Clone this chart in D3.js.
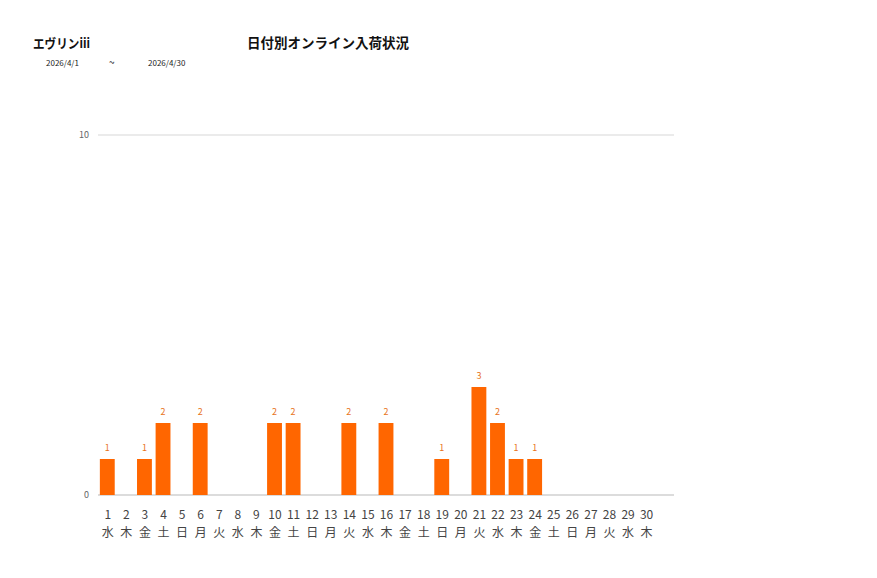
<!DOCTYPE html>
<html lang="ja">
<head>
<meta charset="UTF-8">
<title>日付別オンライン入荷状況</title>
<script src="https://d3js.org/d3.v7.min.js"></script>
<style>
  body { margin: 0; background: #fff; font-family: "Noto Sans CJK JP", "Noto Sans", sans-serif; }
  svg { display: block; }
</style>
</head>
<body>
<div id="chart"></div>
<script>
// data
const days     = ["1","2","3","4","5","6","7","8","9","10","11","12","13","14","15","16","17","18","19","20","21","22","23","24","25","26","27","28","29","30"];
const weekdays = ["水","木","金","土","日","月","火","水","木","金","土","日","月","火","水","木","金","土","日","月","火","水","木","金","土","日","月","火","水","木"];
const counts   = [1,0,1,2,0,2,0,0,0,2,2,0,0,2,0,2,0,0,1,0,3,2,1,1,0,0,0,0,0,0];
const yTicks   = [0, 10];

const W = 877, H = 578;
const plotL = 98, plotR = 674, plotT = 135, plotB = 495;
const step = (plotR - plotL) / 31;   // axis leaves room for one more slot

const svg = d3.select("#chart").append("svg").attr("width", W).attr("height", H);

// titles
svg.append("text").attr("x", 33).attr("y", 48)
  .attr("font-size", 13).attr("font-weight", "bold").attr("fill", "#111")
  .attr("textLength", 57).attr("lengthAdjust", "spacingAndGlyphs").text("エヴリンiii");
svg.append("text").attr("x", 247).attr("y", 48)
  .attr("font-size", 13.5).attr("font-weight", "bold").attr("fill", "#111").text("日付別オンライン入荷状況");
svg.append("text").attr("x", 46).attr("y", 66).attr("font-size", 8).attr("fill", "#222").text("2026/4/1");
svg.append("text").attr("x", 109).attr("y", 66).attr("font-size", 10).attr("fill", "#222").text("~");
svg.append("text").attr("x", 148).attr("y", 66).attr("font-size", 8).attr("fill", "#222").text("2026/4/30");

const x = d3.scaleBand().domain(days).range([plotL, plotL + step * days.length]).paddingInner(0.2).paddingOuter(0.1);
const y = d3.scaleLinear().domain([0, 10]).range([plotB, plotT]);

// grid + y labels
const g = svg.append("g");
g.selectAll("line.grid").data(yTicks).join("line")
  .attr("x1", plotL).attr("x2", plotR)
  .attr("y1", d => y(d)).attr("y2", d => y(d))
  .attr("stroke", d => d === 0 ? "#d0d0d0" : "#e4e4e4").attr("stroke-width", 1.5);
g.selectAll("text.yl").data(yTicks).join("text")
  .attr("x", 89).attr("y", d => y(d) + 3).attr("text-anchor", "end")
  .attr("font-size", 9).attr("fill", "#666").text(d => d);

// bars
const data = days.map((d, i) => ({ day: d, wd: weekdays[i], v: counts[i] }));
svg.selectAll("rect.bar").data(data.filter(d => d.v > 0)).join("rect")
  .attr("x", d => x(d.day)).attr("width", x.bandwidth())
  .attr("y", d => y(d.v)).attr("height", d => y(0) - y(d.v))
  .attr("fill", "#ff6600");

svg.selectAll("text.val").data(data.filter(d => d.v > 0)).join("text")
  .attr("x", d => x(d.day) + x.bandwidth() / 2).attr("y", d => y(d.v) - 8)
  .attr("text-anchor", "middle").attr("font-size", 9).attr("fill", "#e8731a").text(d => d.v);

// x labels
svg.selectAll("text.day").data(data).join("text")
  .attr("x", d => x(d.day) + x.bandwidth() / 2 + 0.5).attr("y", 519)
  .attr("text-anchor", "middle").attr("font-size", 12).attr("fill", "#444").text(d => d.day);
svg.selectAll("text.wd").data(data).join("text")
  .attr("x", d => x(d.day) + x.bandwidth() / 2 + 0.5).attr("y", 537)
  .attr("text-anchor", "middle").attr("font-size", 12).attr("fill", "#444").text(d => d.wd);
</script>
</body>
</html>
